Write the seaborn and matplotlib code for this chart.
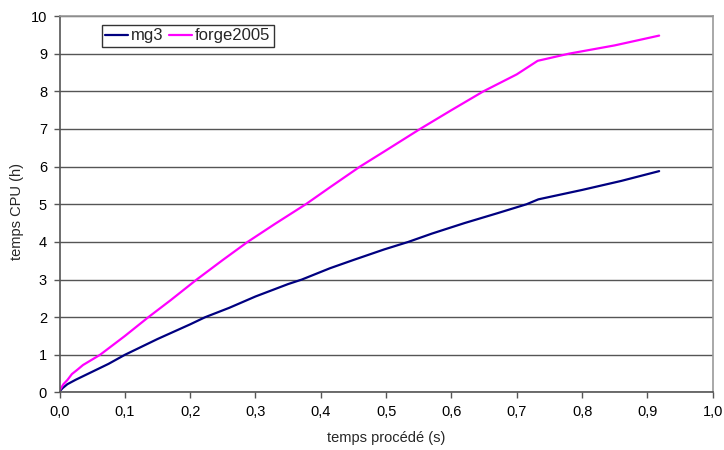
import numpy as np
import pandas as pd
import matplotlib
matplotlib.use("Agg")
import matplotlib.pyplot as plt
import seaborn as sns

# Data
mg3_x = [0.0, 0.005, 0.012, 0.025, 0.05, 0.075, 0.10, 0.15, 0.20, 0.223, 0.26, 0.30,
         0.35, 0.371, 0.414, 0.45, 0.497, 0.534, 0.57, 0.62, 0.67, 0.715, 0.733,
         0.80, 0.86, 0.918]
mg3_y = [0.03, 0.12, 0.22, 0.34, 0.55, 0.76, 1.00, 1.42, 1.81, 2.00, 2.25, 2.55,
         2.88, 3.00, 3.30, 3.52, 3.80, 4.00, 4.22, 4.50, 4.76, 5.00, 5.13,
         5.38, 5.62, 5.88]
forge_x = [0.0, 0.006, 0.012, 0.019, 0.027, 0.036, 0.062, 0.10, 0.136, 0.17, 0.21,
           0.25, 0.288, 0.33, 0.377, 0.414, 0.46, 0.497, 0.552, 0.60, 0.649, 0.70,
           0.732, 0.78, 0.85, 0.918]
forge_y = [0.05, 0.22, 0.33, 0.49, 0.60, 0.73, 1.00, 1.50, 2.00, 2.45, 3.00,
           3.52, 4.00, 4.48, 5.00, 5.45, 6.00, 6.40, 7.00, 7.50, 8.00, 8.45,
           8.81, 9.00, 9.22, 9.48]
series_names = ["mg3", "forge2005"]
x_ticks = [0.0, 0.1, 0.2, 0.3, 0.4, 0.5, 0.6, 0.7, 0.8, 0.9, 1.0]
y_ticks = list(range(0, 11))

df = pd.concat([
    pd.DataFrame({"x": mg3_x, "y": mg3_y, "serie": series_names[0]}),
    pd.DataFrame({"x": forge_x, "y": forge_y, "serie": series_names[1]}),
], ignore_index=True)

sns.set_style("white")
plt.rcParams["font.family"] = ["Liberation Sans", "DejaVu Sans"]

FS = 10.5
fig = plt.figure(figsize=(7.24, 4.5), dpi=100)
ax = fig.add_axes([0.0822, 0.1278, 0.9022, 0.8366])

sns.lineplot(data=df, x="x", y="y", hue="serie", sort=False, estimator=None,
             palette={"mg3": "#000080", "forge2005": "#FF00FF"},
             linewidth=1.6, ax=ax)

ax.set_xlim(0, 1.0)
ax.set_ylim(0, 10)
ax.set_xticks(x_ticks)
ax.set_xticklabels([f"{v:.1f}".replace(".", ",") for v in x_ticks])
ax.set_yticks(y_ticks)
ax.set_yticklabels([str(v) for v in y_ticks])
ax.grid(axis="y", color="#555555", linewidth=1.0)
ax.set_axisbelow(True)
ax.tick_params(axis="both", labelsize=FS, colors="black", direction="out",
               length=4, width=1, left=True, bottom=True, pad=5)
ax.tick_params(axis="x", color="#555555")
ax.tick_params(axis="y", color="#555555")

for s in ["left", "bottom"]:
    ax.spines[s].set_color("#555555")
    ax.spines[s].set_linewidth(1.2)
for s in ["right", "top"]:
    ax.spines[s].set_color("#999999")
    ax.spines[s].set_linewidth(1.2)

ax.set_xlabel("temps procédé (s)", fontsize=FS, labelpad=9)
ax.set_ylabel("temps CPU (h)", fontsize=FS)
ax.yaxis.set_label_coords(-0.054, 0.482)

leg = ax.legend(loc="upper left", bbox_to_anchor=(0.065, 0.976), ncol=2,
                frameon=True, fancybox=False, fontsize=12, handlelength=1.35,
                handletextpad=0.18, columnspacing=0.36, borderpad=0.2,
                borderaxespad=0)
leg.get_frame().set_edgecolor("black")
leg.get_frame().set_linewidth(1.0)
for line in leg.get_lines():
    line.set_linewidth(1.6)

fig.savefig("out.png", dpi=100)
